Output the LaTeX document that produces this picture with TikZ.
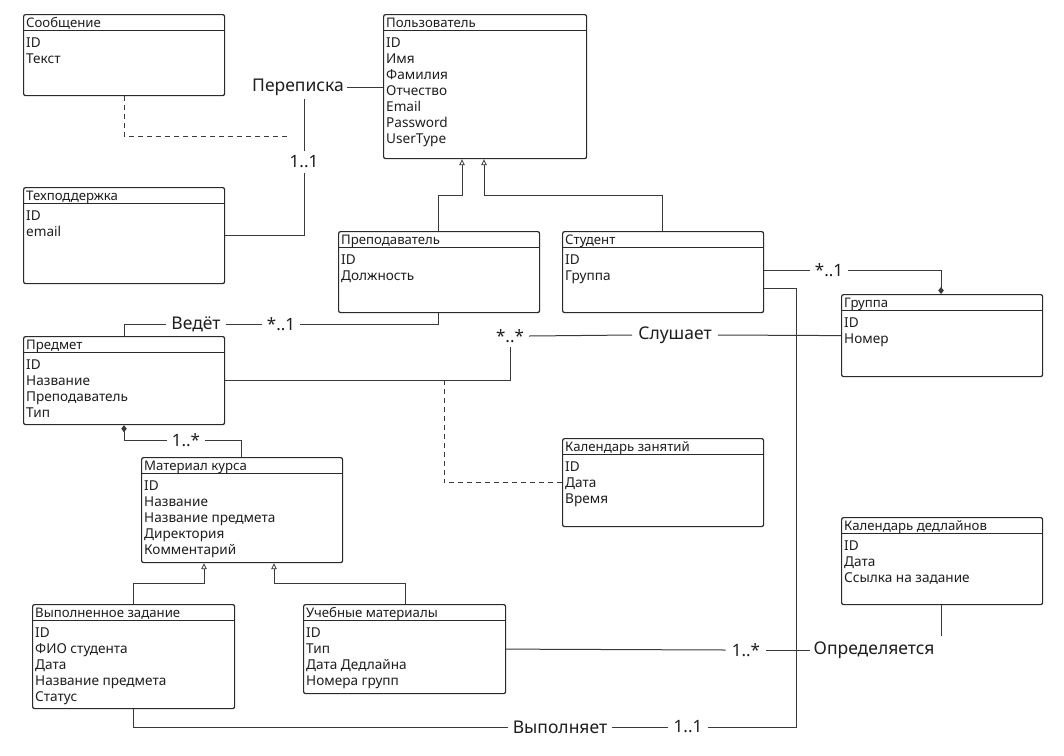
\documentclass[tikz,border=0pt]{standalone}
\usepackage{fontspec}
\setmainfont{Noto Sans}
\usetikzlibrary{arrows.meta}
\definecolor{boxc}{HTML}{2A2A2A}
\definecolor{linec}{HTML}{3A3A3A}
\definecolor{txtc}{HTML}{1E1E1E}
\tikzset{
  cls/.style={draw=boxc, line width=1.2pt, rounded corners=2pt, anchor=north west, inner sep=0pt, fill=white},
  hdr/.style={draw=boxc, line width=1pt},
  ttl/.style={anchor=base west, inner sep=0pt, text=txtc, font=\fontsize{13.2}{15}\selectfont},
  fld/.style={anchor=north west, inner sep=0pt, align=left, text=txtc, font=\fontsize{13.6}{16}\selectfont},
  conn/.style={draw=linec, line width=1pt},
  dsh/.style={conn, dash pattern=on 5pt off 4pt},
  rel/.style={inner sep=0pt, text=txtc, font=\fontsize{17.5}{20}\selectfont},
  mult/.style={inner sep=0pt, text=txtc, font=\fontsize{17}{20}\selectfont},
  inh/.style={conn, -{Triangle[open, length=6pt, width=5.5pt, line width=0.8pt]}},
  comp/.style={conn, -{Diamond[length=7pt, width=5.5pt]}},
}
\newcommand\umlclass[7]{%
  \node[cls, minimum width=#4pt, minimum height=#5pt] (#1) at (#2,#3) {};
  \draw[hdr] ([yshift=-16pt]#1.north west) -- ([yshift=-16pt]#1.north east);
  \node[ttl] (#1-t) at (#2+3,#3+13.5) {#6};
  \node[fld] (#1-f) at (#2+3,#3+23.5) {#7};
}
\begin{document}
\begin{tikzpicture}[x=1pt, y=-1pt]
\useasboundingbox (0,0) rectangle (1064,755);
\fill[white] (0,0) rectangle (1064,755);

% classes
\umlclass{soob}{23}{14}{201}{81}{Сообщение}{ID\\Текст}
\umlclass{polz}{383}{14}{203}{144}{Пользователь}{ID\\Имя\\Фамилия\\Отчество\\Email\\Password\\UserType}
\umlclass{tech}{23}{187}{201}{96}{Техподдержка}{ID\\email}
\umlclass{prep}{338}{231}{201}{81}{Преподаватель}{ID\\Должность}
\umlclass{stud}{562}{231}{201}{81}{Студент}{ID\\Группа}
\umlclass{grp}{841}{294}{201}{82}{Группа}{ID\\Номер}
\umlclass{pred}{23}{336}{201}{88}{Предмет}{ID\\Название\\Преподаватель\\Тип}
\umlclass{mat}{141}{457}{201}{105}{Материал курса}{ID\\Название\\Название предмета\\Директория\\Комментарий}
\umlclass{kz}{562}{438}{201}{88}{Календарь занятий}{ID\\Дата\\Время}
\umlclass{kd}{841}{517}{201}{87}{Календарь дедлайнов}{ID\\Дата\\Ссылка на задание}
\umlclass{vyp}{32}{604}{202}{104}{Выполненное задание}{ID\\ФИО студента\\Дата\\Название предмета\\Статус}
\umlclass{ucheb}{303}{604}{202}{89}{Учебные материалы}{ID\\Тип\\Дата Дедлайна\\Номера групп}

% labels
\node[rel] (perep) at (298,87) {Переписка};
\node[mult] (m11a) at (304,162) {1..1};
\node[rel] (vedet) at (196,324) {Ведёт};
\node[mult] (m1b) at (281,324) {*..1};
\node[mult] (mss) at (510,336) {*..*};
\node[rel] (slush) at (675,335) {Слушает};
\node[mult] (m1c) at (829,270) {*..1};
\node[mult] (m1s) at (186,440) {1..*};
\node[mult] (m1d) at (746,650) {1..*};
\node[rel] (opr) at (874,650) {Определяется};
\node[rel] (vypl) at (560,727) {Выполняет};
\node[mult] (m11b) at (688,727) {1..1};

% Переписка
\draw[conn] ([xshift=3pt]perep.east) -- (perep.east -| polz.west);
\draw[conn] ([yshift=-3pt]304,0 |- perep.south) -- ([yshift=5pt]m11a.north);
\draw[conn] ([yshift=-5pt]m11a.south) |- (tech.east);
\coordinate (dshend) at (288,136);
\draw[dsh] (124,0 |- soob.south) |- (dshend);

% inheritance to Пользователь
\draw[inh] (438,0 |- prep.north) |- (462,195) -- (462,0 |- polz.south);
\draw[inh] (662,0 |- stud.north) |- (484,195) -- (484,0 |- polz.south);

% Студент - Группа
\draw[conn] (stud.east |- 0,270) -- ([xshift=-5pt]m1c.west);
\draw[comp] ([xshift=5pt]m1c.east) -| (941,0 |- grp.north);

% Ведёт
\draw[conn] (124,0 |- pred.north) |- ([xshift=-5pt]vedet.west);
\draw[conn] ([xshift=5pt]vedet.east) -- ([xshift=-5pt]m1b.west);
\draw[conn] ([xshift=5pt]m1b.east) -| (438,0 |- prep.south);

% Слушает
\draw[conn] (pred.east |- 0,380) -| ([yshift=-4pt]mss.south);
\draw[conn] ([xshift=5pt]mss.east) -- ([xshift=-6pt]slush.west);
\draw[conn] ([xshift=6pt]slush.east) -- (grp.west);
\coordinate (dj) at (444,380);
\draw[dsh] (dj) |- (kz.west);

% Предмет - Материал курса
\draw[conn] (241,0 |- mat.north) |- ([xshift=5pt]m1s.east);
\draw[comp] ([xshift=-5pt]m1s.west) -| (124,0 |- pred.south);

% inheritance to Материал курса
\draw[inh] (133,0 |- vyp.north) |- (204,583) -- (204,0 |- mat.south);
\draw[inh] (405,0 |- ucheb.north) |- (274,583) -- (274,0 |- mat.south);

% Определяется
\draw[conn] (ucheb.east) -- ([xshift=-6pt]m1d.west);
\draw[conn] ([xshift=6pt]m1d.east) -- ([xshift=-3pt]opr.west);
\coordinate (kdend) at (941,636);
\draw[conn] (941,0 |- kd.south) -- (kdend);

% Выполняет
\draw[conn] (133,0 |- vyp.south) |- ([xshift=-5pt]vypl.west);
\draw[conn] ([xshift=5pt]vypl.east) -- ([xshift=-6pt]m11b.west);
\draw[conn] ([xshift=6pt]m11b.east) -| (796,288) -- (stud.east |- 0,288);
\end{tikzpicture}
\end{document}
